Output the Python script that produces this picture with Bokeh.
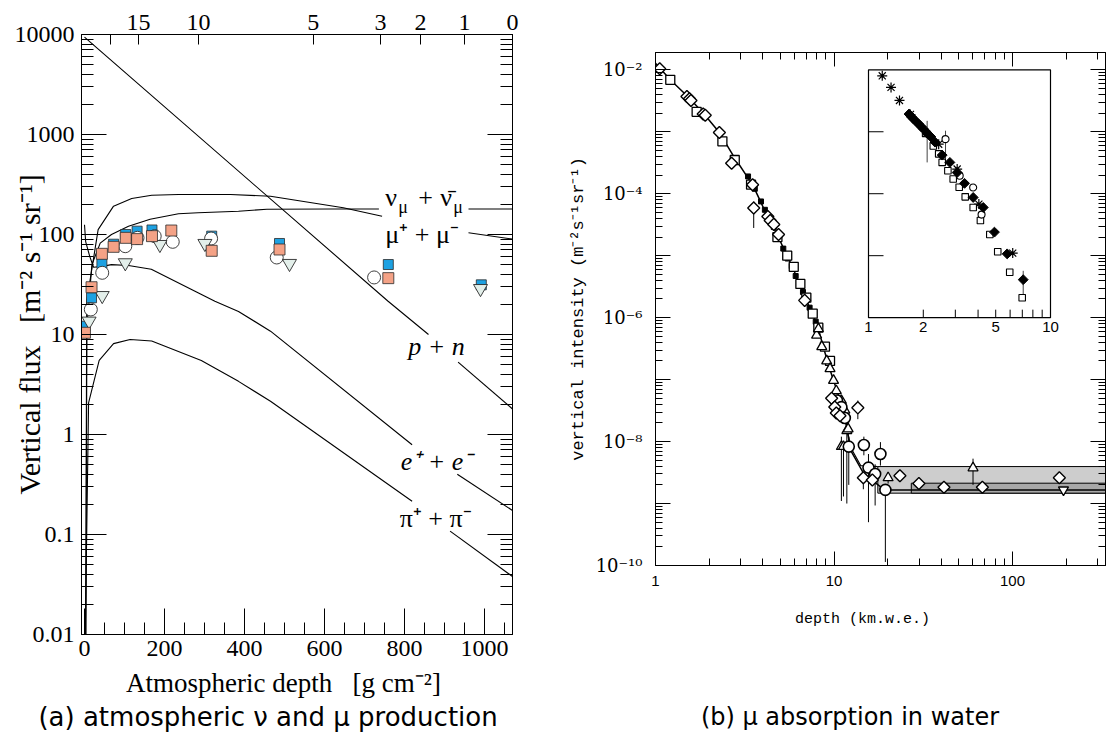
import math
from bokeh.plotting import figure
from bokeh.models import (Range1d, LinearAxis, LogAxis, FixedTicker, CustomJSTickFormatter,
                          Label, LogScale)
from bokeh.core.properties import value
from bokeh.embed import file_html
from bokeh.resources import INLINE

# ======================= Panel (a): atmospheric fluxes =======================
depth_ticks = [0, 200, 400, 600, 800, 1000]
depth_tick_labels = ["0", "200", "400", "600", "800", "1000"]
depth_minor_ticks = [0, 50, 100, 150, 200, 250, 300, 350, 400, 450, 500, 550, 600,
                     650, 700, 750, 800, 850, 900, 950, 1000, 1050]
flux_ticks = [0.01, 0.1, 1, 10, 100, 1000, 10000]
flux_tick_labels = ["0.01", "0.1", "1", "10", "100", "1000", "10000"]
altitude_depths = [65, 135, 285, 572, 740, 840, 950, 1070]
altitude_labels = ["", "15", "10", "5", "3", "2", "1", "0"]

# model curves (each is interrupted by its label after *_gap points)
pn_x = [0, 759, 860, 934, 1070]
pn_y = [9400, 21.5, 10.0, 5.3, 1.8]
pn_gap = 3
nu_x = [2.9, 6.0, 18.5, 39.3, 67.4, 110, 164, 235, 284, 385, 456, 615, 736, 960, 1070]
nu_y = [0.003, 12, 50, 82, 100, 121, 142, 161, 165, 171, 179, 180, 180, 180, 180]
nu_gap = 13
mu_x = [2.9, 5.5, 34.1, 72.6, 118, 168, 235, 365, 465, 647, 744, 960, 1070]
mu_y = [0.005, 21.5, 112, 192, 229, 247, 251, 251, 241, 185, 152, 104, 90]
mu_gap = 11
e_x = [0, 2.9, 13.3, 22.7, 44.5, 67.4, 110, 167, 326, 385, 465, 819, 932, 1070]
e_y = [125, 85, 60, 47, 48, 50, 49, 45, 21.5, 17, 10.8, 0.79, 0.4, 0.174]
e_gap = 12
pi_x = [0.8, 10.2, 36.7, 72.6, 114, 168, 292, 385, 465, 819, 914, 1070]
pi_y = [0.005, 2.07, 5.5, 8.1, 8.9, 8.6, 5.5, 3.4, 2.15, 0.215, 0.108, 0.038]
pi_gap = 10

# measured muon fluxes
blue_x = [1.1, 17.6, 43.5, 72.8, 103, 131.5, 168.7, 318, 487.5, 759.5, 992]
blue_y = [12.1, 23.3, 51.3, 80, 100, 108, 111, 96.3, 81.3, 50.1, 31.4]
circle_x = [15.8, 44.3, 102, 132.5, 175.5, 220.6, 316.5, 480.6, 724]
circle_y = [17.8, 41.4, 76.4, 92.6, 96.3, 84.5, 91.2, 58.9, 37.2]
tri_x = [11.5, 44.3, 102, 188.5, 301, 512.5, 990]
tri_y = [13.6, 24.5, 52.1, 79.4, 81.3, 51.3, 28.8]
salmon_x = [1.1, 17.6, 43.5, 72.8, 103, 131.5, 168.7, 217, 318, 487.5, 759.5]
salmon_y = [10.4, 29.7, 64.1, 75.3, 92.6, 89.9, 96.3, 109.6, 68.7, 70.8, 36.6]

# ======================= Panel (b): depth-intensity =======================
depth_b_ticks = [1, 10, 100]
depth_b_labels = ["1", "10", "100"]
intensity_exps = [-10, -9, -8, -7, -6, -5, -4, -3, -2]
intensity_labels = ["10⁻¹⁰", "", "10⁻⁸", "", "10⁻⁶", "", "10⁻⁴", "", "10⁻²"]

curve_x = [1.0, 1.21, 1.53, 1.85, 2.28, 2.7, 3.52, 4.26, 4.84, 5.39, 5.87, 6.39, 6.9,
           7.57, 8.18, 8.61, 9.18, 9.79, 10.4, 11.1, 11.6]
curve_y = [1.28e-2, 6.9e-3, 3.6e-3, 2.0e-3, 9.7e-4, 4.3e-4, 1.35e-4, 4.2e-5, 2.1e-5,
           1.07e-5, 6.5e-6, 3.5e-6, 2.1e-6, 1.15e-6, 6.6e-7, 3.8e-7, 2.0e-7, 1.1e-7,
           6.6e-8, 3.5e-8, 2.2e-8]
upper_x = [11.6, 12.4, 14.1, 17.6]
upper_y = [2.2e-8, 8.0e-9, 4.1e-9, 3.95e-9]
lower_x = [11.6, 12.4, 14.7, 19.2, 350]
lower_y = [2.2e-8, 7.2e-9, 3.0e-9, 1.66e-9, 1.66e-9]
band_outer = dict(left=[17.6], right=[350], bottom=[1.47e-9], top=[3.95e-9])
band_inner = dict(left=[27.1], right=[350], bottom=[1.47e-9], top=[2.13e-9])

odia_x = [1.056, 1.50, 1.55, 1.58, 1.85, 1.90, 2.28, 2.67, 3.5, 3.55, 4.26, 4.39, 4.60,
          4.89, 6.85, 9.7, 10.1, 10.3, 10.8, 13.6, 14.6, 16.4, 23.4, 29.9, 41.3, 67.8, 183]
odia_y = [1.04e-2, 3.7e-3, 3.4e-3, 3.2e-3, 1.93e-3, 1.85e-3, 9.7e-4, 3.1e-4, 1.4e-4, 5.9e-5,
          4.3e-5, 3.7e-5, 3.2e-5, 2.2e-5, 1.9e-6, 5.0e-8, 3.6e-8, 2.9e-8, 2.6e-8, 3.5e-8,
          2.6e-9, 2.4e-9, 2.8e-9, 2.1e-9, 1.83e-9, 1.83e-9, 2.6e-9]
osq_x = [1.21, 1.70, 2.37, 2.78, 3.43, 4.82, 5.47, 5.95, 6.48, 7.0, 7.6, 8.17, 8.9, 9.5]
osq_y = [6.9e-3, 2.1e-3, 7.0e-4, 3.5e-4, 1.4e-4, 2.0e-5, 1.0e-5, 6.6e-6, 3.5e-6, 2.1e-6,
         1.16e-6, 6.9e-7, 3.4e-7, 2.0e-7]
fsq_x = [3.3, 3.6, 3.9, 4.1, 4.4, 4.6, 4.9, 5.2, 5.5, 5.8, 6.1, 6.4, 6.7, 7.0, 7.3, 7.6,
         7.9, 8.2]
fsq_y = [1.9e-4, 1.2e-4, 7.5e-5, 5.5e-5, 3.6e-5, 2.9e-5, 1.9e-5, 1.3e-5, 9.0e-6, 6.8e-6,
         4.7e-6, 3.4e-6, 2.6e-6, 1.9e-6, 1.45e-6, 1.1e-6, 8.6e-7, 6.6e-7]
otri_x = [7.99, 8.18, 8.54, 9.1, 9.5, 9.94, 10.3, 11.0, 11.0, 11.3, 11.5, 11.8, 12.0, 20.1, 60.1]
otri_y = [5.2e-7, 6.6e-7, 3.4e-7, 2.0e-7, 1.5e-7, 9.7e-8, 6.6e-8, 4.6e-8, 8.3e-9, 8.3e-9,
          3.2e-8, 1.5e-8, 1.6e-8, 2.6e-9, 3.76e-9]
ocirc_x = [10.4, 11.0, 11.5, 12.1, 14.7, 15.6, 17.0, 18.2, 19.4]
ocirc_y = [4.6e-8, 3.6e-8, 2.4e-8, 8.3e-9, 8.8e-9, 3.8e-9, 3.0e-9, 6.3e-9, 1.66e-9]
oinv_x = [193]
oinv_y = [1.66e-9]
err_x = [3.55, 11.0, 11.3, 11.8, 12.1, 13.6, 14.6, 14.7, 15.6, 17.0, 18.2, 19.4, 20.1, 60.1]
err_lo = [2.8e-5, 1.1e-9, 1.3e-9, 1.0e-9, 2.0e-9, 2.3e-8, 1.7e-9, 6.0e-9, 5.0e-10, 9.3e-10,
          4.1e-9, 1.14e-10, 2.1e-9, 2.0e-9]
err_hi = [7.5e-5, 1.2e-8, 1.0e-8, 2.0e-8, 1.2e-8, 4.6e-8, 3.2e-9, 1.2e-8, 6.3e-9, 4.3e-9,
          9.8e-9, 1.66e-9, 3.2e-9, 5.3e-9]

# inset
inset_x_lim = [1, 10]
inset_y_lim = [1e-6, 1e-2]
inset_ticks = [1, 2, 5, 10]
inset_tick_labels = ["1", "2", "5", "10"]
inset_minor = [2, 3, 4, 5, 6, 7, 8, 9]
inset_yticks = [1e-3, 1e-4, 1e-5]
ast_x = [1.19, 1.33, 1.48, 1.70, 2.43, 3.07, 4.04, 6.2]
ast_y = [8.0e-3, 5.2e-3, 3.2e-3, 1.9e-3, 6.3e-4, 2.5e-4, 6.8e-5, 1.1e-5]
fdia_x = [1.67, 1.72, 1.77, 1.83, 1.89, 1.95, 2.01, 2.1, 2.2, 2.32, 2.54, 2.80, 3.07, 3.37,
          3.76, 4.27, 4.92, 5.78, 7.08]
fdia_y = [1.93e-3, 1.75e-3, 1.6e-3, 1.45e-3, 1.33e-3, 1.2e-3, 1.1e-3, 9.5e-4, 8.3e-4, 6.8e-4,
          4.2e-4, 3.2e-4, 2.2e-4, 1.47e-4, 8.7e-5, 6.0e-5, 2.4e-5, 1.07e-5, 4.1e-6]
isq_x = [2.06, 2.27, 2.43, 2.54, 2.73, 2.92, 3.15, 3.40, 3.76, 4.12, 4.64, 5.13, 5.97, 6.99]
isq_y = [9.4e-4, 5.9e-4, 4.4e-4, 3.2e-4, 2.35e-4, 1.73e-4, 1.27e-4, 8.9e-5, 6.0e-5, 3.7e-5,
         2.2e-5, 1.16e-5, 5.4e-6, 2.1e-6]
icirc_x = [2.10, 2.65, 3.17, 3.76, 4.18]
icirc_y = [9.4e-4, 7.6e-4, 1.95e-4, 1.26e-4, 4.6e-5]
ierr_x = [2.10, 2.65, 7.08]
ierr_lo = [3.2e-4, 3.4e-4, 2.1e-6]
ierr_hi = [1.5e-3, 1.04e-3, 5.7e-6]

# ---------------------------------------------------------------------------
SERIF = "Liberation Serif"
SANS = "DejaVu Sans"
MONO = "Liberation Mono"
NB = "\u00a0"


def list_formatter(vals, labels, log=False):
    code = """
    for (let i = 0; i < vals.length; i++) {
        const d = %s;
        if (d < 1e-6) return labels[i];
    }
    return "";
    """ % ("Math.abs(Math.log10(tick) - Math.log10(vals[i]))" if log else "Math.abs(tick - vals[i])")
    return CustomJSTickFormatter(args=dict(vals=list(vals), labels=list(labels)), code=code)


def blank_formatter():
    return CustomJSTickFormatter(code="return '';")


def style_axis(ax, tin, mtin, font, size, standoff):
    ax.major_tick_in = tin
    ax.major_tick_out = 0
    ax.minor_tick_in = mtin
    ax.minor_tick_out = 0
    ax.major_tick_line_color = "black"
    ax.minor_tick_line_color = "black"
    ax.axis_line_color = "black"
    ax.major_label_text_font = font
    ax.major_label_text_font_size = size
    ax.major_label_text_color = "black"
    ax.major_label_standoff = standoff


def style_label(ax, text, font, size, standoff):
    ax.axis_label = text
    ax.axis_label_text_font = font
    ax.axis_label_text_font_size = size
    ax.axis_label_text_font_style = "normal"
    ax.axis_label_text_color = "black"
    ax.axis_label_standoff = standoff


def caption(p, text, size, standoff):
    """Sub-figure caption, placed as the label of a tick-less axis under the x axis."""
    ax = LinearAxis(ticker=FixedTicker(ticks=[], minor_ticks=[]), formatter=blank_formatter())
    ax.major_tick_in = ax.major_tick_out = ax.minor_tick_in = ax.minor_tick_out = 0
    ax.axis_line_color = None
    ax.major_label_standoff = 0
    ax.major_label_text_font_size = "1px"
    style_label(ax, text, SANS, size, standoff)
    p.add_layout(ax, "below")


def lab(p, x, y, text, size="26px", font=SERIF, style="normal", xo=0, yo=0, align="left"):
    p.add_layout(Label(x=x, y=y, text=text, x_offset=xo, y_offset=yo, text_font=font,
                       text_font_size=size, text_font_style=style, text_align=align,
                       text_baseline="middle", text_color="black"))


# ------------------------------ Panel (a) ---------------------------------
W1, H = 562, 749
p1 = figure(width=W1, height=H, x_range=Range1d(-7.5, 1070), y_range=Range1d(0.01, 10000),
            y_axis_type="log", output_backend="svg", toolbar_location=None,
            min_border_left=81, min_border_right=W1 - 512, min_border_top=34,
            min_border_bottom=115)
p1.grid.visible = False
p1.outline_line_color = "black"
p1.background_fill_color = "white"
p1.border_fill_color = "white"

flux_minor = [k * 10 ** e for e in range(-2, 4) for k in range(2, 10)]

xa = p1.xaxis[0]
xa.ticker = FixedTicker(ticks=depth_ticks, minor_ticks=depth_minor_ticks)
xa.formatter = list_formatter(depth_ticks, depth_tick_labels)
style_axis(xa, 26, 12, SERIF, "24px", 6)
style_label(xa, "Atmospheric depth" + NB * 3 + "[g cm⁻²]" + NB * 4, SERIF, "27px", 9)

ya = p1.yaxis[0]
ya.ticker = FixedTicker(ticks=flux_ticks, minor_ticks=flux_minor)
ya.formatter = list_formatter(flux_ticks, flux_tick_labels, log=True)
style_axis(ya, 25, 12, SERIF, "24px", 7)
style_label(ya, "Vertical flux" + NB * 3 + "[m⁻² s⁻¹ sr⁻¹]", SERIF, "30px", -34)

top1 = LinearAxis(ticker=FixedTicker(ticks=altitude_depths, minor_ticks=[]),
                  formatter=list_formatter(altitude_depths, altitude_labels))
style_axis(top1, 10, 0, SERIF, "24px", 5)
p1.add_layout(top1, "above")

right1 = LogAxis(ticker=FixedTicker(ticks=flux_ticks, minor_ticks=flux_minor),
                 formatter=blank_formatter())
style_axis(right1, 25, 12, SERIF, "10px", 0)
p1.add_layout(right1, "right")

caption(p1, "(a) atmospheric ν and μ production" + NB * 7, "26px", 1)

for cx, cy, g in [(pn_x, pn_y, pn_gap), (nu_x, nu_y, nu_gap), (mu_x, mu_y, mu_gap),
                  (e_x, e_y, e_gap), (pi_x, pi_y, pi_gap)]:
    p1.line(cx[:g], cy[:g], line_color="black", line_width=1.1)
    p1.line(cx[g:], cy[g:], line_color="black", line_width=1.1)

p1.scatter(blue_x, blue_y, marker="square", size=10, fill_color="#1DA1E2",
           line_color="#2a2a2a", line_width=0.8)
p1.scatter(circle_x, circle_y, marker="circle", size=13, fill_color="white",
           line_color="#2a2a2a", line_width=0.9)
p1.scatter(tri_x, tri_y, marker="inverted_triangle", size=14, fill_color="#E3EFEA",
           line_color="#2a2a2a", line_width=0.9)
p1.scatter(salmon_x, salmon_y, marker="square", size=11, fill_color="#F4A286",
           line_color="#2a2a2a", line_width=0.8)

# curve labels
lab(p1, 752, 232, "ν")
lab(p1, 752, 232, "μ", size="18px", xo=13, yo=-9)
lab(p1, 752, 232, "+", xo=33)
lab(p1, 752, 232, "ν̄", xo=55)
lab(p1, 752, 232, "μ", size="18px", xo=68, yo=-9)
lab(p1, 752, 101, "μ⁺ + μ⁻")
lab(p1, 880, 7.5, "p + n", style="italic", align="center")
lab(p1, 880, 0.543, "e⁺ + e⁻", style="italic", align="center")
lab(p1, 878, 0.146, "π⁺ + π⁻", align="center")

# ------------------------------ Panel (b) ---------------------------------
W2 = 1106 - W1
FL, FR, FT, FB = 655, 1105, 52, 565          # frame edges in window pixels
DEC_X, DEC_Y = 178.5, 62.0                    # pixels per decade
x_end = 10 ** ((FR - FL) / DEC_X)
y_end = 10 ** (-2 + (69.3 - FT) / DEC_Y)

p2 = figure(width=W2, height=H, x_axis_type="log", y_axis_type="log",
            x_range=Range1d(1, x_end), y_range=Range1d(1e-10, y_end),
            output_backend="svg", toolbar_location=None,
            min_border_left=FL - W1, min_border_right=1106 - FR, min_border_top=FT,
            min_border_bottom=H - FB)
p2.styles = {"position": "absolute", "left": f"{W1}px", "top": "0px"}
p2.grid.visible = False
p2.outline_line_color = "black"
p2.background_fill_color = "white"
p2.border_fill_color = "white"

x2_minor = [k * 10 ** e for e in range(0, 3) for k in range(2, 10)]
y2_ticks = [10.0 ** e for e in intensity_exps]
y2_minor = [k * 10.0 ** e for e in intensity_exps for k in range(2, 10)]

bx = p2.xaxis[0]
bx.ticker = FixedTicker(ticks=depth_b_ticks, minor_ticks=x2_minor)
bx.formatter = list_formatter(depth_b_ticks, depth_b_labels, log=True)
style_axis(bx, 14, 7, "Liberation Sans", "15px", 10)
style_label(bx, "depth (km.w.e.)" + NB * 4, MONO, "15px", 22)

ly = p2.yaxis[0]
ly.ticker = FixedTicker(ticks=y2_ticks, minor_ticks=y2_minor)
ly.formatter = list_formatter(y2_ticks, intensity_labels, log=True)
style_axis(ly, 15, 7, "DejaVu Serif", "18px", 13)
style_label(ly, "vertical intensity (m⁻²s⁻¹sr⁻¹)", MONO, "17px", 5)

top2 = LogAxis(ticker=FixedTicker(ticks=depth_b_ticks, minor_ticks=x2_minor),
               formatter=blank_formatter())
style_axis(top2, 14, 7, SERIF, "10px", 0)
p2.add_layout(top2, "above")
right2 = LogAxis(ticker=FixedTicker(ticks=y2_ticks, minor_ticks=y2_minor),
                 formatter=blank_formatter())
style_axis(right2, 15, 7, SERIF, "10px", 0)
p2.add_layout(right2, "right")

caption(p2, "(b) μ absorption in water" + NB * 8, "24px", 72)

# neutrino-induced muon band
p2.quad(fill_color="#CDCDCD", line_color="black", line_width=1, **band_outer)
p2.quad(fill_color="#A8A8A8", line_color="black", line_width=1, **band_inner)

p2.line(curve_x, curve_y, line_color="black", line_width=1.5)
p2.line(upper_x, upper_y, line_color="black", line_width=1.2)
p2.line(lower_x, lower_y, line_color="black", line_width=1.5)

p2.segment(x0=err_x, y0=err_lo, x1=err_x, y1=err_hi, line_color="black", line_width=1)
p2.scatter(fsq_x, fsq_y, marker="square", size=5, fill_color="black", line_color="black")
p2.scatter(osq_x, osq_y, marker="square", size=9, fill_color="white", line_color="black",
           line_width=1.3)
p2.scatter(otri_x, otri_y, marker="triangle", size=10, fill_color="white", line_color="black",
           line_width=1.3)
p2.scatter(ocirc_x, ocirc_y, marker="circle", size=11, fill_color="white", line_color="black",
           line_width=1.6)
p2.scatter(odia_x, odia_y, marker="square", angle=math.pi / 4, size=8.5, fill_color="white",
           line_color="black", line_width=1.4)
p2.scatter(oinv_x, oinv_y, marker="inverted_triangle", size=10, fill_color="white",
           line_color="black", line_width=1.3)

# inset (own logarithmic x mapping, shares the intensity axis)
IN_L, IN_DEC = 868, 182.0
p2.extra_x_ranges = {"inset": Range1d(10 ** ((FL - IN_L) / IN_DEC), 10 ** ((FR - IN_L) / IN_DEC))}
p2.extra_x_scales = {"inset": LogScale()}
p2.quad(left=[inset_x_lim[0]], right=[inset_x_lim[1]], bottom=[inset_y_lim[0]],
        top=[inset_y_lim[1]], x_range_name="inset", fill_color="white", line_color="black",
        line_width=1.2)
p2.ray(x=[inset_x_lim[0]] * len(inset_yticks), y=inset_yticks, length=15, angle=0,
       length_units="screen", x_range_name="inset", line_color="black", line_width=1)
p2.ray(x=inset_minor, y=[inset_y_lim[0]] * len(inset_minor), length=8, angle=math.pi / 2,
       length_units="screen", x_range_name="inset", line_color="black", line_width=1)
p2.text(x=inset_ticks, y=[inset_y_lim[0]] * len(inset_ticks), text=inset_tick_labels,
        x_range_name="inset", y_offset=9, text_align="center", text_baseline="middle",
        text_font=value("Liberation Sans"), text_font_size="15px", text_color="black")
p2.segment(x0=ierr_x, y0=ierr_lo, x1=ierr_x, y1=ierr_hi, x_range_name="inset",
           line_color="#444444", line_width=1)
p2.scatter(ast_x, ast_y, marker="asterisk", size=10, line_color="black", line_width=1.2,
           x_range_name="inset")
p2.scatter(isq_x, isq_y, marker="square", size=6.5, fill_color="white", line_color="black",
           line_width=1.1, x_range_name="inset")
p2.scatter(icirc_x, icirc_y, marker="circle", size=7, fill_color="white", line_color="black",
           line_width=1.1, x_range_name="inset")
p2.scatter(fdia_x, fdia_y, marker="square", angle=math.pi / 4, size=7, fill_color="black",
           line_color="black", x_range_name="inset")

open("out.html", "w").write(file_html([p1, p2], INLINE))
